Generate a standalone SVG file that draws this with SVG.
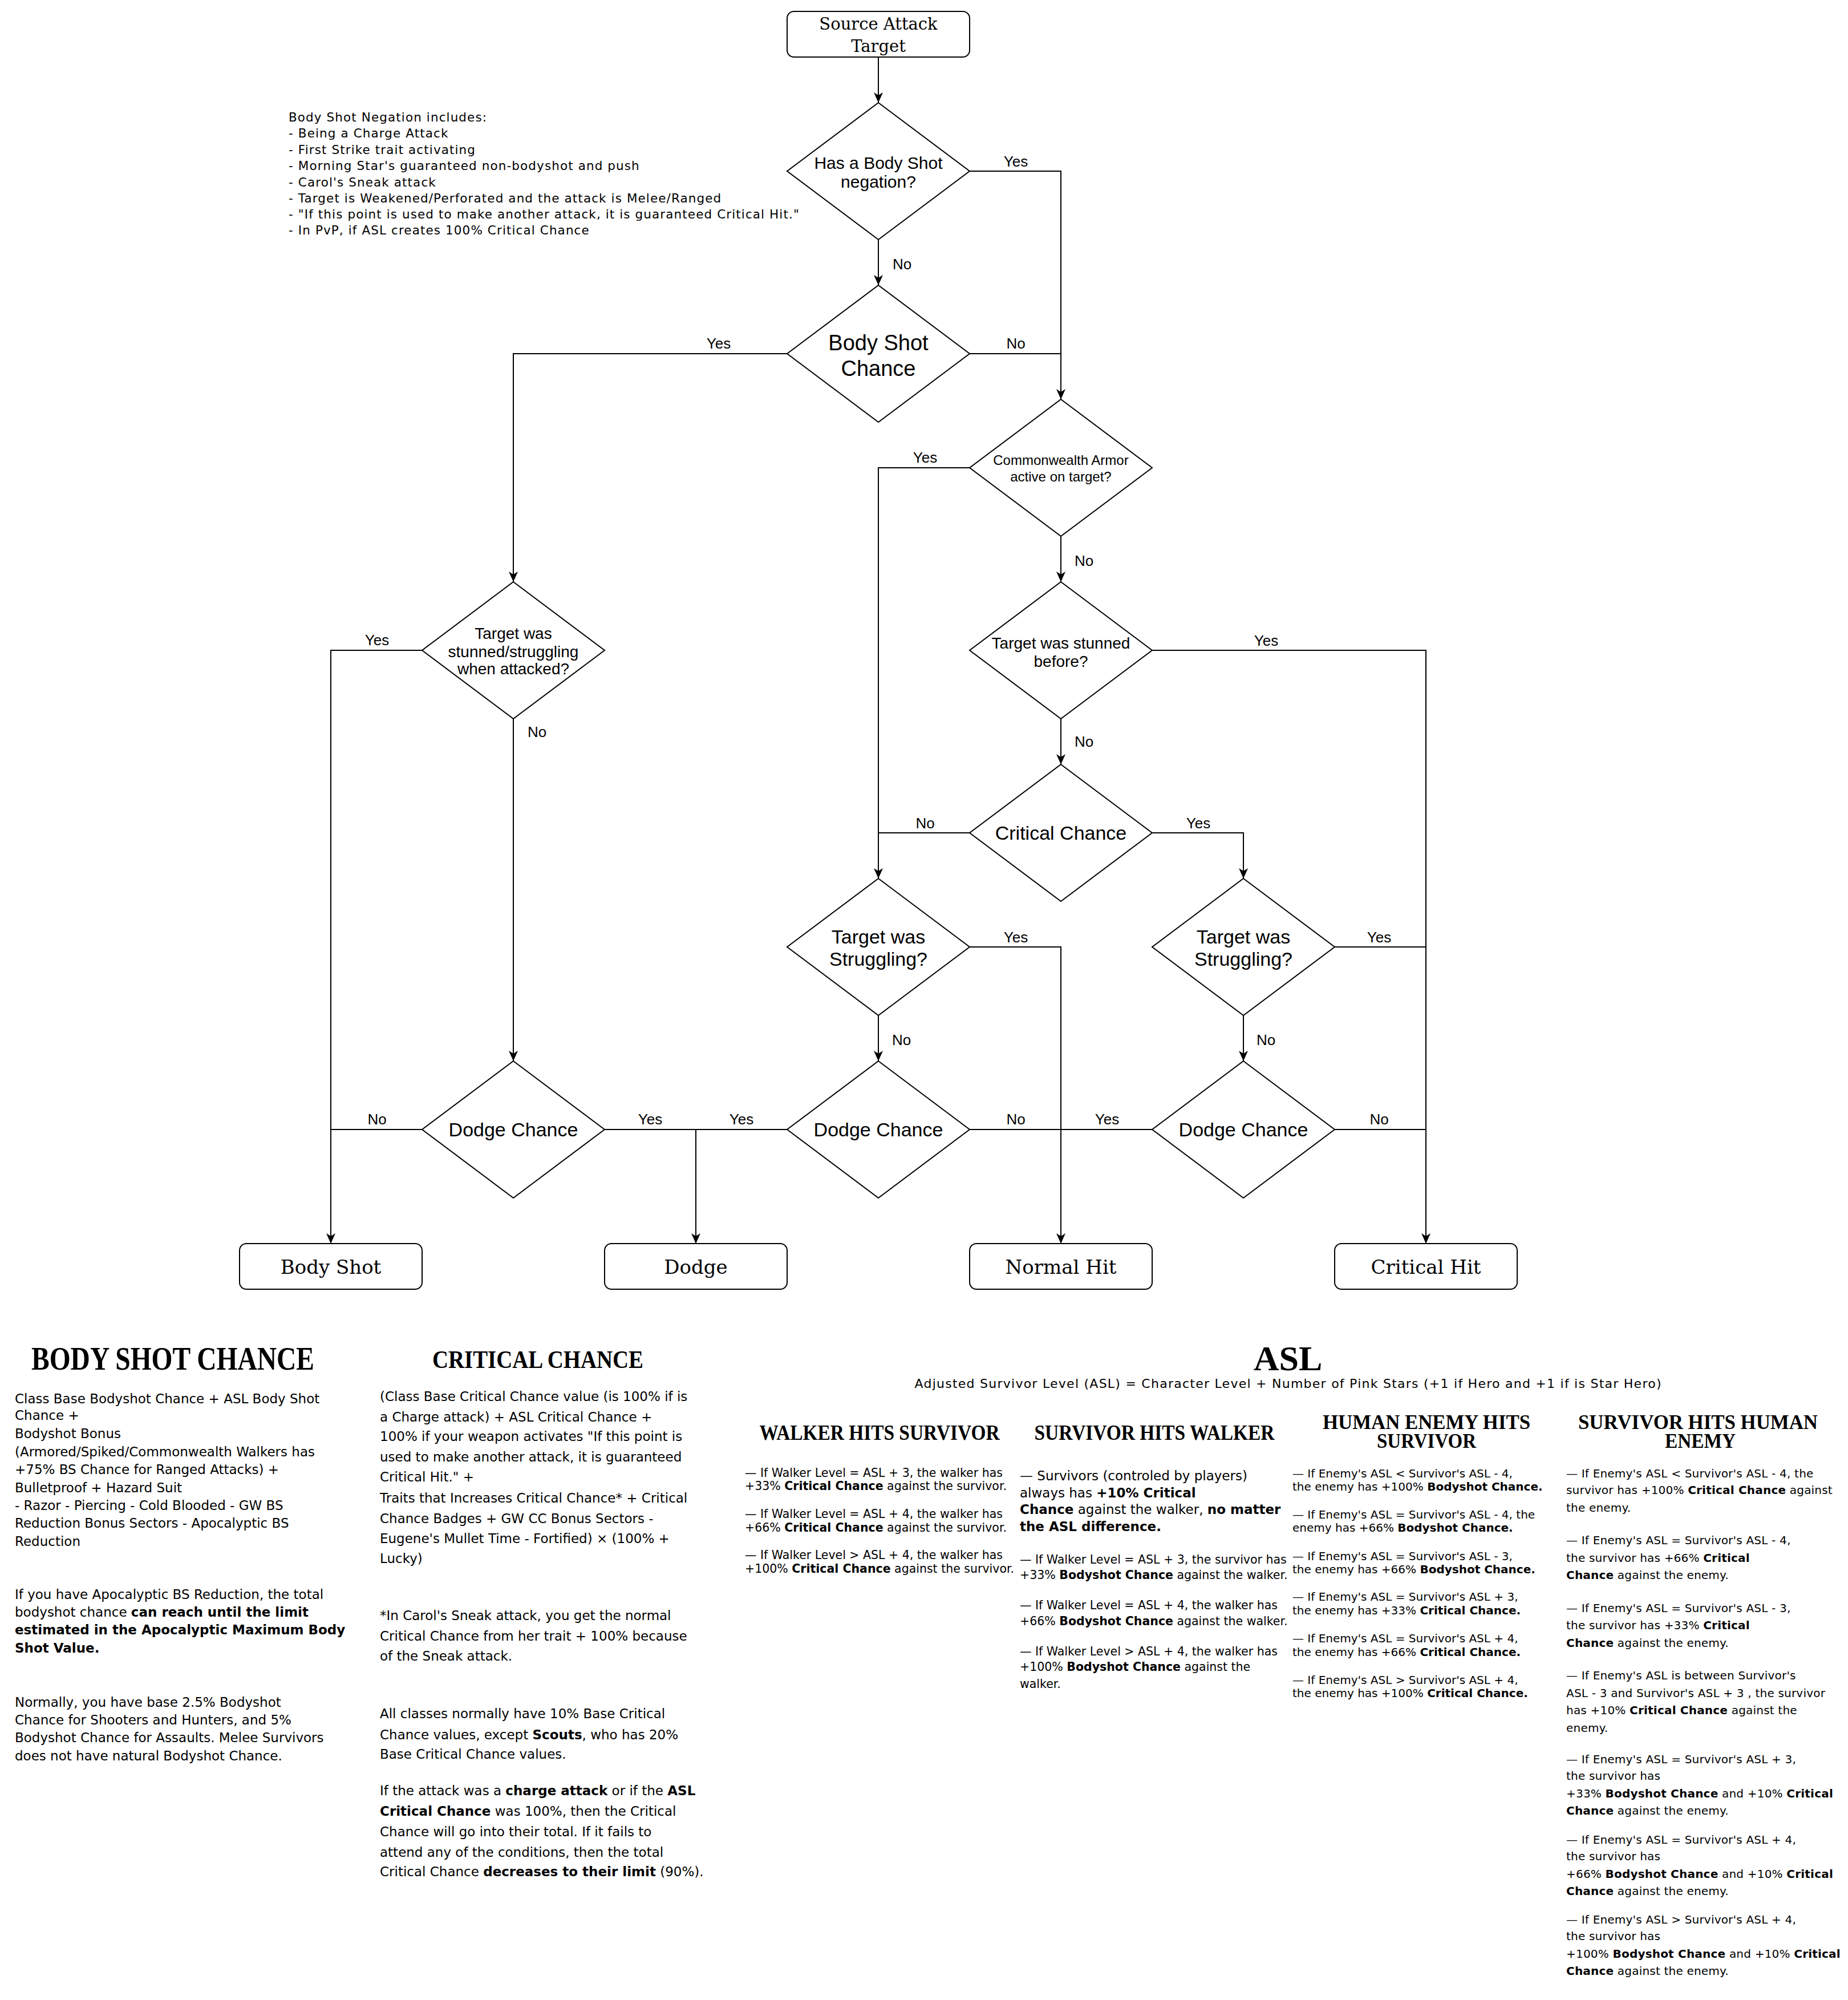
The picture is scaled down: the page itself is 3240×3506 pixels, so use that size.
<svg xmlns="http://www.w3.org/2000/svg" width="3240" height="3506" viewBox="0 0 3240 3506">
<style>
.n{fill:#fff;stroke:#000;stroke-width:2}
.c{fill:none;stroke:#000;stroke-width:2}
.a{marker-end:url(#arr)}
.lbl{font-family:"Liberation Sans",Arial,sans-serif;font-size:26px;fill:#000;text-anchor:middle}
.lbs{font-family:"Liberation Sans",Arial,sans-serif;font-size:26px;fill:#000}
.nt{font-family:"Liberation Sans",Arial,sans-serif;fill:#000;text-anchor:middle}
.bx{font-family:"DejaVu Serif",serif;font-size:34px;fill:#000;text-anchor:middle}
.h{font-family:"Liberation Serif","Times New Roman",serif;font-weight:bold;fill:#000;text-anchor:middle}
.t{font-family:"DejaVu Sans",Verdana,sans-serif;fill:#000}
.b{font-weight:bold}
</style>
<defs>
<marker id="arr" markerUnits="userSpaceOnUse" markerWidth="18" markerHeight="16" refX="18" refY="8" orient="auto" viewBox="0 0 18 16">
<path d="M0,0 L18,8 L0,16 L5,8 Z" fill="#000"/>
</marker>
</defs>
<rect width="3240" height="3506" fill="#fff"/>

<g id="connectors">
<path class="c a" d="M1540,100 V180"/>
<path class="c a" d="M1700,300 H1860 V700"/>
<path class="c a" d="M1540,420 V500"/>
<path class="c" d="M1700,620 H1860"/>
<path class="c a" d="M1380,620 H900 V1020"/>
<path class="c a" d="M1700,820 H1540 V1540"/>
<path class="c a" d="M1860,940 V1020"/>
<path class="c a" d="M2020,1140 H2500 V2180"/>
<path class="c a" d="M1860,1260 V1340"/>
<path class="c" d="M1700,1460 H1540"/>
<path class="c a" d="M2020,1460 H2180 V1540"/>
<path class="c a" d="M1700,1660 H1860 V2180"/>
<path class="c a" d="M1540,1780 V1860"/>
<path class="c" d="M2340,1660 H2500"/>
<path class="c a" d="M2180,1780 V1860"/>
<path class="c a" d="M740,1140 H580 V2180"/>
<path class="c a" d="M900,1260 V1860"/>
<path class="c" d="M740,1980 H580"/>
<path class="c a" d="M1060,1980 H1220 V2180"/>
<path class="c" d="M1380,1980 H1220"/>
<path class="c" d="M1700,1980 H1860"/>
<path class="c" d="M2020,1980 H1860"/>
<path class="c" d="M2340,1980 H2500"/>
<text class="lbl" x="1781" y="292">Yes</text>
<text class="lbs" x="1565" y="472">No</text>
<text class="lbl" x="1781" y="611">No</text>
<text class="lbl" x="1260" y="611">Yes</text>
<text class="lbl" x="1622" y="811">Yes</text>
<text class="lbs" x="1884" y="992">No</text>
<text class="lbl" x="2220" y="1132">Yes</text>
<text class="lbs" x="1884" y="1309">No</text>
<text class="lbl" x="1622" y="1452">No</text>
<text class="lbl" x="2101" y="1452">Yes</text>
<text class="lbl" x="1781" y="1652">Yes</text>
<text class="lbs" x="1564" y="1832">No</text>
<text class="lbl" x="2418" y="1652">Yes</text>
<text class="lbs" x="2203" y="1832">No</text>
<text class="lbl" x="661" y="1131">Yes</text>
<text class="lbs" x="925" y="1292">No</text>
<text class="lbl" x="661" y="1971">No</text>
<text class="lbl" x="1140" y="1971">Yes</text>
<text class="lbl" x="1300" y="1971">Yes</text>
<text class="lbl" x="1781" y="1971">No</text>
<text class="lbl" x="1941" y="1971">Yes</text>
<text class="lbl" x="2418" y="1971">No</text>
</g>

<g id="source">
<rect class="n" x="1380" y="20" width="320" height="80" rx="12"/>
<text class="bx" x="1540" y="52" style="font-size:29px">Source Attack</text>
<text class="bx" x="1540" y="91" style="font-size:29px">Target</text>
</g>

<g id="d-negation">
<polygon class="n" points="1540,180 1700,300 1540,420 1380,300"/>
<text class="nt" x="1540" y="296" font-size="30">Has a Body Shot</text>
<text class="nt" x="1540" y="329" font-size="30">negation?</text>
</g>

<g id="d-bodyshot">
<polygon class="n" points="1540,500 1700,620 1540,740 1380,620"/>
<text class="nt" x="1540" y="614" font-size="38">Body Shot</text>
<text class="nt" x="1540" y="659" font-size="38">Chance</text>
</g>

<g id="d-commonwealth">
<polygon class="n" points="1860,700 2020,820 1860,940 1700,820"/>
<text class="nt" x="1860" y="815" font-size="24">Commonwealth Armor</text>
<text class="nt" x="1860" y="844" font-size="24">active on target?</text>
</g>

<g id="d-stunned-attacked">
<polygon class="n" points="900,1020 1060,1140 900,1260 740,1140"/>
<text class="nt" x="900" y="1120" font-size="28">Target was</text>
<text class="nt" x="900" y="1152" font-size="28">stunned/struggling</text>
<text class="nt" x="900" y="1182" font-size="28">when attacked?</text>
</g>

<g id="d-stunned-before">
<polygon class="n" points="1860,1020 2020,1140 1860,1260 1700,1140"/>
<text class="nt" x="1860" y="1137" font-size="28">Target was stunned</text>
<text class="nt" x="1860" y="1169" font-size="28">before?</text>
</g>

<g id="d-critical">
<polygon class="n" points="1860,1340 2020,1460 1860,1580 1700,1460"/>
<text class="nt" x="1860" y="1472" font-size="34">Critical Chance</text>
</g>

<g id="d-struggling-left">
<polygon class="n" points="1540,1540 1700,1660 1540,1780 1380,1660"/>
<text class="nt" x="1540" y="1654" font-size="34">Target was</text>
<text class="nt" x="1540" y="1693" font-size="34">Struggling?</text>
</g>

<g id="d-struggling-right">
<polygon class="n" points="2180,1540 2340,1660 2180,1780 2020,1660"/>
<text class="nt" x="2180" y="1654" font-size="34">Target was</text>
<text class="nt" x="2180" y="1693" font-size="34">Struggling?</text>
</g>

<g id="d-dodge-left">
<polygon class="n" points="900,1860 1060,1980 900,2100 740,1980"/>
<text class="nt" x="900" y="1992" font-size="34">Dodge Chance</text>
</g>

<g id="d-dodge-mid">
<polygon class="n" points="1540,1860 1700,1980 1540,2100 1380,1980"/>
<text class="nt" x="1540" y="1992" font-size="34">Dodge Chance</text>
</g>

<g id="d-dodge-right">
<polygon class="n" points="2180,1860 2340,1980 2180,2100 2020,1980"/>
<text class="nt" x="2180" y="1992" font-size="34">Dodge Chance</text>
</g>

<g id="r-bodyshot">
<rect class="n" x="420" y="2180" width="320" height="80" rx="12"/>
<text class="bx" x="580" y="2233">Body Shot</text>
</g>
<g id="r-dodge">
<rect class="n" x="1060" y="2180" width="320" height="80" rx="12"/>
<text class="bx" x="1220" y="2233">Dodge</text>
</g>
<g id="r-normal">
<rect class="n" x="1700" y="2180" width="320" height="80" rx="12"/>
<text class="bx" x="1860" y="2233">Normal Hit</text>
</g>
<g id="r-critical">
<rect class="n" x="2340" y="2180" width="320" height="80" rx="12"/>
<text class="bx" x="2500" y="2233">Critical Hit</text>
</g>

<g id="notes" class="t" font-size="21.5" letter-spacing="1.1">
<text x="506" y="213">Body Shot Negation includes:</text>
<text x="506" y="241">- Being a Charge Attack</text>
<text x="506" y="270">- First Strike trait activating</text>
<text x="506" y="298">- Morning Star's guaranteed non-bodyshot and push</text>
<text x="506" y="327">- Carol's Sneak attack</text>
<text x="506" y="355">- Target is Weakened/Perforated and the attack is Melee/Ranged</text>
<text x="506" y="383">- "If this point is used to make another attack, it is guaranteed Critical Hit."</text>
<text x="506" y="411">- In PvP, if ASL creates 100% Critical Chance</text>
</g>

<g id="body-shot-chance">
<text class="h" x="303" y="2401" font-size="56" textLength="496" lengthAdjust="spacingAndGlyphs">BODY SHOT CHANCE</text>
<g class="t" font-size="23">
<text x="26" y="2460">Class Base Bodyshot Chance + ASL Body Shot</text>
<text x="26" y="2489">Chance +</text>
<text x="26" y="2521">Bodyshot Bonus</text>
<text x="26" y="2553">(Armored/Spiked/Commonwealth Walkers has</text>
<text x="26" y="2584">+75% BS Chance for Ranged Attacks) +</text>
<text x="26" y="2616">Bulletproof + Hazard Suit</text>
<text x="26" y="2647">- Razor - Piercing - Cold Blooded - GW BS</text>
<text x="26" y="2678">Reduction Bonus Sectors - Apocalyptic BS</text>
<text x="26" y="2710">Reduction</text>
<text x="26" y="2803">If you have Apocalyptic BS Reduction, the total</text>
<text x="26" y="2834">bodyshot chance <tspan class="b">can reach until the limit</tspan></text>
<text x="26" y="2865" class="b">estimated in the Apocalyptic Maximum Body</text>
<text x="26" y="2897" class="b">Shot Value.</text>
<text x="26" y="2992">Normally, you have base 2.5% Bodyshot</text>
<text x="26" y="3023">Chance for Shooters and Hunters, and 5%</text>
<text x="26" y="3054">Bodyshot Chance for Assaults. Melee Survivors</text>
<text x="26" y="3086">does not have natural Bodyshot Chance.</text>
</g>
</g>

<g id="critical-chance">
<text class="h" x="943" y="2398" font-size="44" textLength="370" lengthAdjust="spacingAndGlyphs">CRITICAL CHANCE</text>
<g class="t" font-size="23">
<text x="666" y="2456">(Class Base Critical Chance value (is 100% if is</text>
<text x="666" y="2492">a Charge attack) + ASL Critical Chance +</text>
<text x="666" y="2526">100% if your weapon activates "If this point is</text>
<text x="666" y="2562">used to make another attack, it is guaranteed</text>
<text x="666" y="2597">Critical Hit." +</text>
<text x="666" y="2634">Traits that Increases Critical Chance* + Critical</text>
<text x="666" y="2670">Chance Badges + GW CC Bonus Sectors  -</text>
<text x="666" y="2705">Eugene's Mullet Time - Fortified) × (100% +</text>
<text x="666" y="2740">Lucky)</text>
<text x="666" y="2840">*In Carol's Sneak attack, you get the normal</text>
<text x="666" y="2876">Critical Chance from her trait + 100% because</text>
<text x="666" y="2911">of the Sneak attack.</text>
<text x="666" y="3012">All classes normally have 10% Base Critical</text>
<text x="666" y="3049">Chance values, except <tspan class="b">Scouts</tspan>, who has 20%</text>
<text x="666" y="3083">Base Critical Chance values.</text>
<text x="666" y="3147">If the attack was a <tspan class="b">charge attack</tspan> or if the <tspan class="b">ASL</tspan></text>
<text x="666" y="3183"><tspan class="b">Critical Chance</tspan> was 100%, then the Critical</text>
<text x="666" y="3219">Chance will go into their total. If it fails to</text>
<text x="666" y="3255">attend any of the conditions, then the total</text>
<text x="666" y="3289">Critical Chance <tspan class="b">decreases to their limit</tspan> (90%).</text>
</g>
</g>

<g id="asl">
<text class="h" x="2258" y="2402" font-size="62">ASL</text>
<text class="t" x="2258" y="2433" font-size="22" text-anchor="middle" textLength="1309" lengthAdjust="spacing">Adjusted Survivor Level (ASL) = Character Level + Number of Pink Stars (+1 if Hero  and +1 if is Star Hero)</text>
</g>

<g id="walker-hits-survivor">
<text class="h" x="1542" y="2524" font-size="38" textLength="421" lengthAdjust="spacingAndGlyphs">WALKER HITS SURVIVOR</text>
<g class="t" font-size="20.5">
<text x="1306" y="2589">— If Walker Level = ASL + 3, the walker has</text>
<text x="1306" y="2612">+33% <tspan class="b">Critical Chance</tspan> against the survivor.</text>
<text x="1306" y="2661">— If Walker Level = ASL + 4, the walker has</text>
<text x="1306" y="2685">+66% <tspan class="b">Critical Chance</tspan> against the survivor.</text>
<text x="1306" y="2733">— If Walker Level &gt; ASL + 4, the walker has</text>
<text x="1306" y="2757">+100% <tspan class="b">Critical Chance</tspan> against the survivor.</text>
</g>
</g>

<g id="survivor-hits-walker">
<text class="h" x="2024" y="2524" font-size="38" textLength="421" lengthAdjust="spacingAndGlyphs">SURVIVOR HITS WALKER</text>
<g class="t" font-size="23">
<text x="1788" y="2595">— Survivors (controled by players)</text>
<text x="1788" y="2625">always has <tspan class="b">+10% Critical</tspan></text>
<text x="1788" y="2654"><tspan class="b">Chance</tspan> against the walker, <tspan class="b">no matter</tspan></text>
<text x="1788" y="2684" class="b">the ASL difference.</text>
</g>
<g class="t" font-size="20.5">
<text x="1788" y="2741">— If Walker Level = ASL + 3, the survivor has</text>
<text x="1788" y="2768">+33% <tspan class="b">Bodyshot Chance</tspan> against the walker.</text>
<text x="1788" y="2821">— If Walker Level = ASL + 4, the walker has</text>
<text x="1788" y="2849">+66% <tspan class="b">Bodyshot Chance</tspan> against the walker.</text>
<text x="1788" y="2902">— If Walker Level &gt; ASL + 4, the walker has</text>
<text x="1788" y="2929">+100% <tspan class="b">Bodyshot Chance</tspan> against the</text>
<text x="1788" y="2959">walker.</text>
</g>
</g>

<g id="human-enemy-hits-survivor">
<text class="h" x="2501" y="2505" font-size="36" textLength="364" lengthAdjust="spacingAndGlyphs">HUMAN ENEMY HITS</text>
<text class="h" x="2501" y="2538" font-size="36" textLength="174" lengthAdjust="spacingAndGlyphs">SURVIVOR</text>
<g class="t" font-size="20">
<text x="2266" y="2590">— If Enemy's ASL &lt; Survivor's ASL - 4,</text>
<text x="2266" y="2613">the enemy has +100% <tspan class="b">Bodyshot Chance.</tspan></text>
<text x="2266" y="2662">— If Enemy's ASL = Survivor's ASL - 4, the</text>
<text x="2266" y="2685">enemy has +66% <tspan class="b">Bodyshot Chance.</tspan></text>
<text x="2266" y="2735">— If Enemy's ASL = Survivor's ASL - 3,</text>
<text x="2266" y="2758">the enemy has +66% <tspan class="b">Bodyshot Chance.</tspan></text>
<text x="2266" y="2806">— If Enemy's ASL = Survivor's ASL + 3,</text>
<text x="2266" y="2830">the enemy has +33% <tspan class="b">Critical Chance.</tspan></text>
<text x="2266" y="2879">— If Enemy's ASL = Survivor's ASL + 4,</text>
<text x="2266" y="2903">the enemy has +66% <tspan class="b">Critical Chance.</tspan></text>
<text x="2266" y="2952">— If Enemy's ASL &gt; Survivor's ASL + 4,</text>
<text x="2266" y="2975">the enemy has +100% <tspan class="b">Critical Chance.</tspan></text>
</g>
</g>

<g id="survivor-hits-human-enemy">
<text class="h" x="2977" y="2505" font-size="35" textLength="420" lengthAdjust="spacingAndGlyphs">SURVIVOR HITS HUMAN</text>
<text class="h" x="2981" y="2538" font-size="35" textLength="124" lengthAdjust="spacingAndGlyphs">ENEMY</text>
<g class="t" font-size="20" letter-spacing="0.2">
<text x="2746" y="2590">— If Enemy's ASL &lt; Survivor's ASL - 4, the</text>
<text x="2746" y="2619">survivor has +100% <tspan class="b">Critical Chance</tspan> against</text>
<text x="2746" y="2650">the enemy.</text>
<text x="2746" y="2707">— If Enemy's ASL = Survivor's ASL - 4,</text>
<text x="2746" y="2738">the survivor has +66% <tspan class="b">Critical</tspan></text>
<text x="2746" y="2768"><tspan class="b">Chance</tspan> against the enemy.</text>
<text x="2746" y="2826">— If Enemy's ASL = Survivor's ASL - 3,</text>
<text x="2746" y="2856">the survivor has +33% <tspan class="b">Critical</tspan></text>
<text x="2746" y="2887"><tspan class="b">Chance</tspan> against the enemy.</text>
<text x="2746" y="2944">— If Enemy's ASL is between Survivor's</text>
<text x="2746" y="2975">ASL - 3 and Survivor's ASL + 3 , the survivor</text>
<text x="2746" y="3005">has +10% <tspan class="b">Critical Chance</tspan> against the</text>
<text x="2746" y="3036">enemy.</text>
<text x="2746" y="3091">— If Enemy's ASL = Survivor's ASL + 3,</text>
<text x="2746" y="3120">the survivor has</text>
<text x="2746" y="3151">+33% <tspan class="b">Bodyshot Chance</tspan> and +10% <tspan class="b">Critical</tspan></text>
<text x="2746" y="3181"><tspan class="b">Chance</tspan> against the enemy.</text>
<text x="2746" y="3232">— If Enemy's ASL = Survivor's ASL + 4,</text>
<text x="2746" y="3261">the survivor has</text>
<text x="2746" y="3292">+66% <tspan class="b">Bodyshot Chance</tspan> and +10% <tspan class="b">Critical</tspan></text>
<text x="2746" y="3322"><tspan class="b">Chance</tspan> against the enemy.</text>
<text x="2746" y="3372">— If Enemy's ASL &gt; Survivor's ASL + 4,</text>
<text x="2746" y="3401">the survivor has</text>
<text x="2746" y="3432">+100%  <tspan class="b">Bodyshot Chance</tspan> and +10% <tspan class="b">Critical</tspan></text>
<text x="2746" y="3462"><tspan class="b">Chance</tspan> against the enemy.</text>
</g>
</g>
</svg>
